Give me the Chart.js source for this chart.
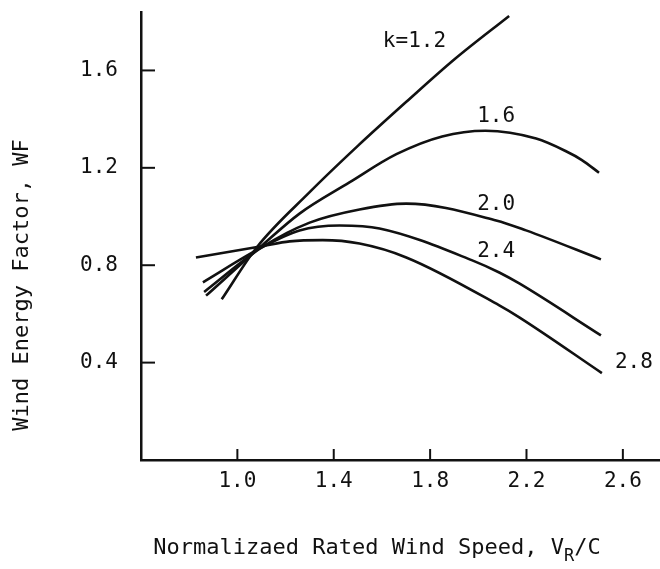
<!DOCTYPE html>
<html>
<head>
<meta charset="utf-8">
<script src="https://cdn.jsdelivr.net/npm/chart.js@4.4.0/dist/chart.umd.min.js"></script>
<style>
  html, body { margin: 0; padding: 0; background: #fff; }
</style>
</head>
<body>
<canvas id="wf" width="660" height="569"></canvas>
<script>
// tick labels
const xTicks = [1.0, 1.4, 1.8, 2.2, 2.6];
const yTicks = [0.4, 0.8, 1.2, 1.6];

// curve names (Weibull shape factor k)
const kNames = ['k=1.2', '1.6', '2.0', '2.4', '2.8'];

// normalized rated wind speed V_R/C -> wind energy factor WF
const speedK12 = [0.935, 1.08, 1.3, 1.5, 1.7, 1.9, 2.128];
const wfK12    = [0.66, 0.873, 1.10, 1.29, 1.47, 1.645, 1.824];

const speedK16 = [0.87, 1.101, 1.258, 1.465, 1.66, 1.85, 2.03, 2.24, 2.364, 2.43, 2.501];
const wfK16    = [0.675, 0.88, 1.012, 1.14, 1.256, 1.329, 1.352, 1.32, 1.268, 1.232, 1.18];

const speedK20 = [0.862, 1.101, 1.3, 1.507, 1.701, 2.074, 2.198, 2.509];
const wfK20    = [0.69, 0.873, 0.975, 1.029, 1.053, 0.984, 0.943, 0.824];

const speedK24 = [0.857, 1.101, 1.258, 1.424, 1.59, 1.975, 2.087, 2.17, 2.509];
const wfK24    = [0.73, 0.873, 0.943, 0.963, 0.951, 0.82, 0.77, 0.725, 0.512];

const speedK28 = [0.828, 1.101, 1.217, 1.354, 1.507, 1.701, 2.087, 2.17, 2.513];
const wfK28    = [0.832, 0.878, 0.898, 0.903, 0.889, 0.832, 0.635, 0.586, 0.357];

// where each k label sits, in data units
const labelAt = [[1.735, 1.72], [2.074, 1.41], [2.074, 1.05], [2.074, 0.855], [2.646, 0.40]];

const FONT = "'DejaVu Sans Mono', 'Liberation Mono', monospace";
const INK = '#111';

const series = [
  [speedK12, wfK12],
  [speedK16, wfK16],
  [speedK20, wfK20],
  [speedK24, wfK24],
  [speedK28, wfK28]
];

const datasets = series.map((s, i) => ({
  label: kNames[i],
  data: s[0].map((v, j) => ({x: v, y: s[1][j]})),
  showLine: true,
  borderColor: INK,
  borderWidth: 2.6,
  pointRadius: 0,
  cubicInterpolationMode: 'monotone',
  fill: false
}));

const inwardTicks = {
  id: 'inwardTicks',
  afterDraw(chart) {
    const {ctx, chartArea} = chart;
    const x = chart.scales.x, y = chart.scales.y;
    ctx.save();
    ctx.strokeStyle = INK;
    ctx.lineWidth = 2;
    xTicks.forEach(v => {
      const px = x.getPixelForValue(v);
      ctx.beginPath();
      ctx.moveTo(px, chartArea.bottom);
      ctx.lineTo(px, chartArea.bottom - 11);
      ctx.stroke();
    });
    yTicks.forEach(v => {
      const py = y.getPixelForValue(v);
      ctx.beginPath();
      ctx.moveTo(chartArea.left, py);
      ctx.lineTo(chartArea.left + 14, py);
      ctx.stroke();
    });
    ctx.restore();
  }
};

const textBits = {
  id: 'textBits',
  afterDraw(chart) {
    const {ctx} = chart;
    const x = chart.scales.x, y = chart.scales.y;
    ctx.save();
    ctx.fillStyle = INK;

    // curve labels
    ctx.font = '21px ' + FONT;
    ctx.textAlign = 'center';
    ctx.textBaseline = 'middle';
    labelAt.forEach((p, i) => {
      ctx.fillText(kNames[i], x.getPixelForValue(p[0]), y.getPixelForValue(p[1]));
    });

    // y title
    ctx.save();
    ctx.translate(22, 285);
    ctx.rotate(-Math.PI / 2);
    ctx.font = '22px ' + FONT;
    ctx.fillText('Wind Energy Factor, WF', 0, 0);
    ctx.restore();

    // x title with subscript R
    const main = 'Normalizaed Rated Wind Speed, V';
    const sub = 'R';
    const tail = '/C';
    ctx.textAlign = 'left';
    ctx.textBaseline = 'alphabetic';
    ctx.font = '22px ' + FONT;
    const w1 = ctx.measureText(main).width;
    const w3 = ctx.measureText(tail).width;
    ctx.font = '17px ' + FONT;
    const w2 = ctx.measureText(sub).width;
    let left = 377 - (w1 + w2 + w3) / 2;
    const base = 554;
    ctx.font = '22px ' + FONT;
    ctx.fillText(main, left, base);
    ctx.font = '17px ' + FONT;
    ctx.fillText(sub, left + w1, base + 7);
    ctx.font = '22px ' + FONT;
    ctx.fillText(tail, left + w1 + w2, base);
    ctx.restore();
  }
};

new Chart(document.getElementById('wf'), {
  type: 'scatter',
  data: {datasets: datasets},
  options: {
    responsive: false,
    animation: false,
    devicePixelRatio: 1,
    layout: {padding: {top: 12, right: 1, left: 0, bottom: 0}},
    plugins: {
      legend: {display: false},
      tooltip: {enabled: false}
    },
    scales: {
      x: {
        type: 'linear',
        min: 0.6,
        max: 2.75,
        afterBuildTicks: s => { s.ticks = xTicks.map(v => ({value: v})); },
        afterFit: s => { s.height = 109; s.paddingLeft = 0; s.paddingRight = 0; },
        grid: {drawOnChartArea: false, drawTicks: false},
        border: {display: true, color: INK, width: 2.5},
        ticks: {
          color: INK,
          padding: 9,
          maxRotation: 0,
          font: {family: FONT, size: 21},
          callback: v => Number(v).toFixed(1)
        }
      },
      y: {
        type: 'linear',
        min: 0,
        max: 1.84,
        afterBuildTicks: s => { s.ticks = yTicks.map(v => ({value: v})); },
        afterFit: s => { s.width = 141; s.paddingTop = 0; s.paddingBottom = 0; },
        grid: {drawOnChartArea: false, drawTicks: false},
        border: {display: true, color: INK, width: 2.5},
        ticks: {
          color: INK,
          padding: 23,
          font: {family: FONT, size: 21},
          callback: v => Number(v).toFixed(1)
        }
      }
    }
  },
  plugins: [inwardTicks, textBits]
});
</script>
</body>
</html>
